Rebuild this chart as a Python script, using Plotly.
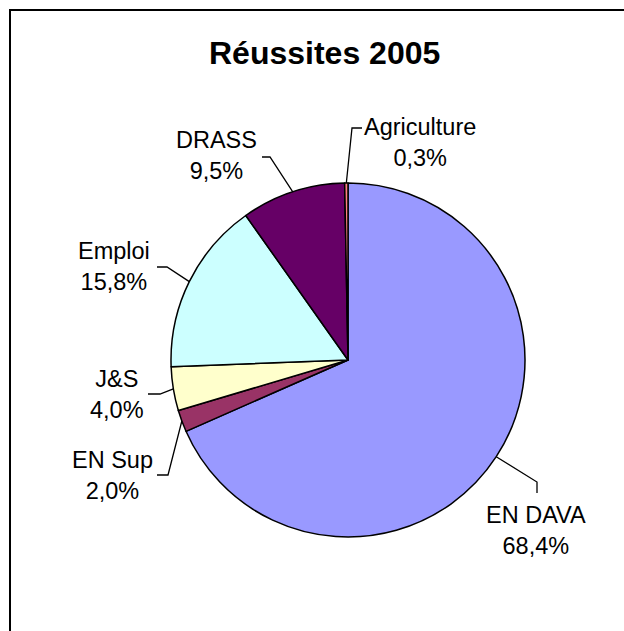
import math
import plotly.graph_objects as go

# ---- data ----
categories = ["EN DAVA", "EN Sup", "J&S", "Emploi", "DRASS", "Agriculture"]
values = [68.4, 2.0, 4.0, 15.8, 9.5, 0.3]
colors = ["#9999FF", "#993366", "#FFFFCC", "#CCFFFF", "#660066", "#FF8080"]
title_text = "Réussites 2005"

# ---- layout constants (pixels) ----
W, H = 624, 631
CX, CY, R = 348, 360, 177
FONT = "Liberation Sans, Arial, sans-serif"

# label block centres and leader elbow / end points (pixels)
label_pos = {
    "EN DAVA": (536, 530),
    "EN Sup": (112, 475),
    "J&S": (117, 394),
    "Emploi": (114, 266),
    "DRASS": (216, 156),
    "Agriculture": (420, 142),
}
leader_pts = {
    "EN DAVA": [(537, 482), (537, 493)],
    "EN Sup": [(168, 475), (157, 475)],
    "J&S": [(160, 394), (148, 394)],
    "Emploi": [(167, 267), (157, 267)],
    "DRASS": [(270, 157), (262, 157)],
    "Agriculture": [(352, 128), (362, 128)],
}


def px(x):
    return x / W


def py(y):
    return 1 - y / H


fig = go.Figure()
fig.add_trace(go.Pie(
    labels=categories,
    values=values,
    sort=False,
    direction="clockwise",
    rotation=0,
    marker=dict(colors=colors, line=dict(color="black", width=1.5)),
    textinfo="none",
    hoverinfo="skip",
    showlegend=False,
    domain=dict(x=[px(CX - R), px(CX + R)], y=[py(CY + R), py(CY - R)]),
))

total = sum(values)
annotations = []
shapes = []
cum = 0.0
for cat, v in zip(categories, values):
    mid = (cum + v / 2) / total * 2 * math.pi
    cum += v
    sx = CX + R * math.sin(mid)
    sy = CY - R * math.cos(mid)
    pts = [(sx, sy)] + leader_pts[cat]
    path = "M {} {}".format(px(pts[0][0]), py(pts[0][1]))
    for (x, y) in pts[1:]:
        path += " L {} {}".format(px(x), py(y))
    shapes.append(dict(type="path", xref="paper", yref="paper", path=path,
                       line=dict(color="black", width=1.3)))
    lx, ly = label_pos[cat]
    pct = "{:.1f}%".format(v / total * 100).replace(".", ",")
    annotations.append(dict(
        x=px(lx), y=py(ly), xref="paper", yref="paper",
        text=cat + "<br>" + pct, showarrow=False,
        xanchor="center", yanchor="middle", align="center",
        font=dict(family=FONT, size=23.5, color="black"),
    ))

annotations.append(dict(
    x=px(324), y=py(53), xref="paper", yref="paper",
    text="<b>" + title_text + "</b>", showarrow=False,
    xanchor="center", yanchor="middle",
    font=dict(family=FONT, size=32, color="black"),
))

# chart frame (extends beyond the visible page on right and bottom)
shapes.append(dict(type="rect", xref="paper", yref="paper",
                   x0=px(10), x1=px(700), y0=py(700), y1=py(10),
                   line=dict(color="black", width=2), fillcolor="rgba(0,0,0,0)",
                   layer="below"))

fig.update_layout(
    width=W, height=H,
    margin=dict(l=0, r=0, t=0, b=0),
    paper_bgcolor="white",
    plot_bgcolor="white",
    annotations=annotations,
    shapes=shapes,
)

fig.write_html(
    "out.html",
    config={"displayModeBar": False, "staticPlot": True},
    post_script="document.body.style.margin='0';document.body.style.overflow='hidden';",
)
